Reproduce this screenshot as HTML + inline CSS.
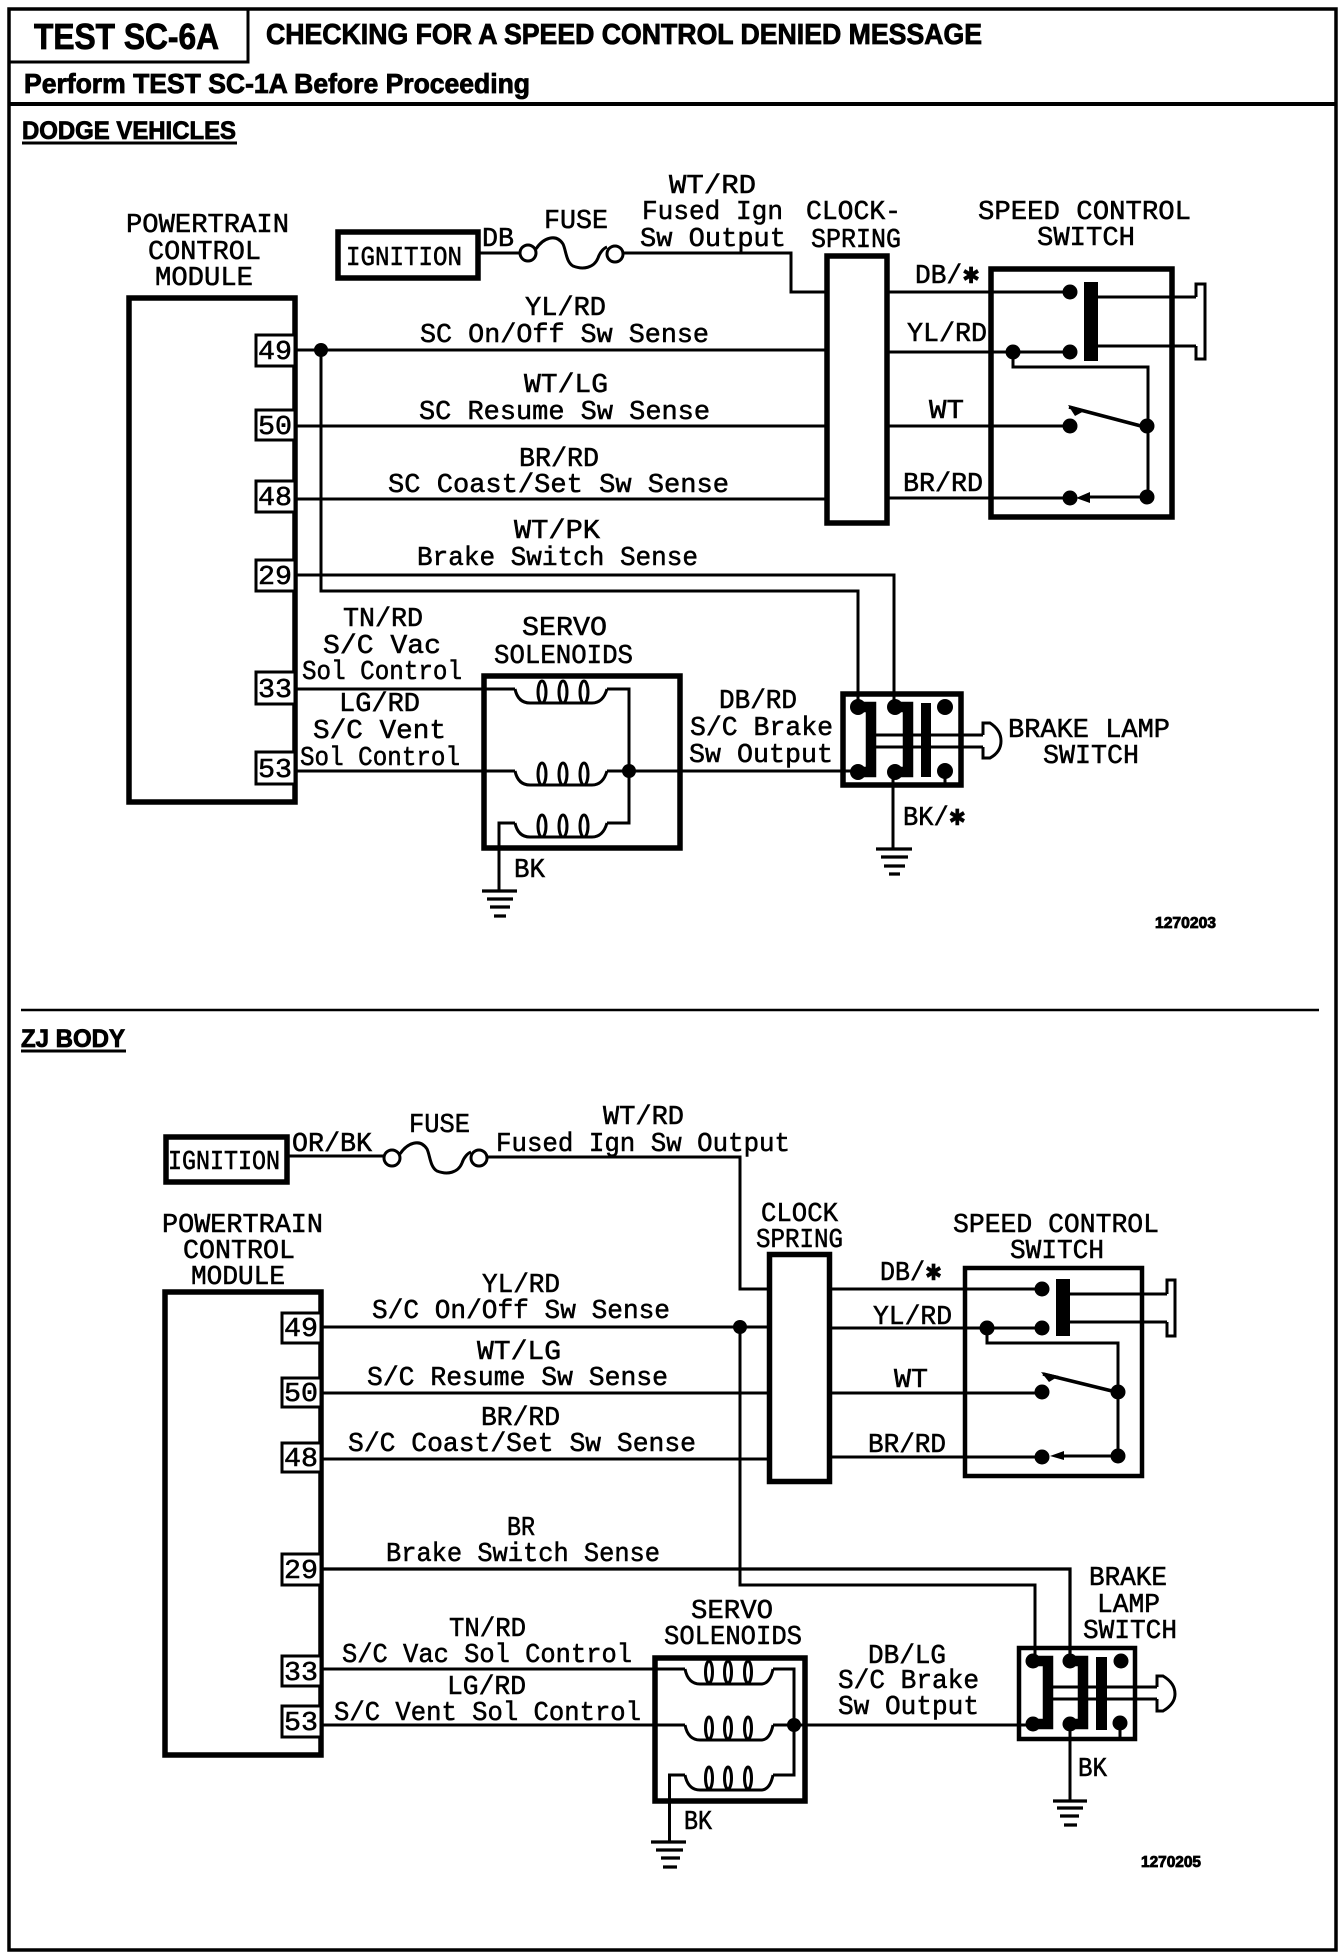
<!DOCTYPE html>
<html lang="en"><head><meta charset="utf-8"><title>TEST SC-6A</title>
<style>
html,body{margin:0;padding:0;background:#fff}
svg{display:block}
.m{font-family:"Liberation Mono","DejaVu Sans Mono",monospace;font-size:27px;fill:#000;stroke:#000;stroke-width:.55}
.b{font-family:"Liberation Sans",sans-serif;font-weight:700;fill:#000;stroke:#000;stroke-width:.85}
.s{font-family:"DejaVu Sans",sans-serif;font-size:22px}
.w{fill:none;stroke:#000;stroke-width:3}
.k{fill:none;stroke:#000;stroke-width:5.5}
.p{fill:#fff;stroke:#000;stroke-width:3}
</style></head><body>
<svg xmlns="http://www.w3.org/2000/svg" width="1344" height="1958" viewBox="0 0 1344 1958">
<defs>
<g id="coil"><path class="w" d="M0,0 Q3,14 15,14 H77 Q88,14 92,0"/><ellipse class="w" cx="27" cy="3" rx="4" ry="11"/><ellipse class="w" cx="48" cy="3" rx="4" ry="11"/><ellipse class="w" cx="69" cy="3" rx="4" ry="11"/></g>
<g id="coil2"><path class="w" d="M0,0 Q3,15 15,15 H76 Q85,15 88,0"/><ellipse class="w" cx="24" cy="3" rx="3.5" ry="11"/><ellipse class="w" cx="43" cy="3" rx="3.5" ry="11"/><ellipse class="w" cx="63" cy="3" rx="3.5" ry="11"/></g>
</defs>
<rect width="1344" height="1958" fill="#fff"/>

<!-- frame -->
<rect x="9" y="9" width="1327" height="1941" fill="none" stroke="#000" stroke-width="3.5"/>
<path class="w" d="M8,62 H248 V9"/>
<path d="M8,104 H1336" stroke="#000" stroke-width="4" fill="none"/>
<path d="M21,1010 H1319" stroke="#000" stroke-width="2.5" fill="none"/>
<path d="M22,143 H237 M21,1051 H126" stroke="#000" stroke-width="3" fill="none"/>

<!-- headings -->
<text class="b" x="34" y="49" font-size="36" textLength="185" lengthAdjust="spacingAndGlyphs">TEST SC-6A</text>
<text class="b" x="266" y="44" font-size="29" textLength="716" lengthAdjust="spacingAndGlyphs">CHECKING FOR A SPEED CONTROL DENIED MESSAGE</text>
<text class="b" x="24" y="93" font-size="28" textLength="506" lengthAdjust="spacingAndGlyphs">Perform TEST SC-1A Before Proceeding</text>
<text class="b" x="22" y="139" font-size="25" textLength="214" lengthAdjust="spacingAndGlyphs">DODGE VEHICLES</text>
<text class="b" x="21" y="1047" font-size="25" textLength="104" lengthAdjust="spacingAndGlyphs">ZJ BODY</text>
<text class="b" x="1155" y="928" font-size="15.5" textLength="61" lengthAdjust="spacingAndGlyphs">1270203</text>
<text class="b" x="1141" y="1867" font-size="15.5" textLength="60" lengthAdjust="spacingAndGlyphs">1270205</text>

<!-- ========== TOP DIAGRAM ========== -->
<rect class="k" x="129" y="298" width="166" height="504"/>
<rect class="p" x="256" y="335" width="39" height="31"/>
<rect class="p" x="256" y="410" width="39" height="30"/>
<rect class="p" x="256" y="481" width="39" height="31"/>
<rect class="p" x="256" y="560" width="39" height="31"/>
<rect class="p" x="256" y="672" width="39" height="32"/>
<rect class="p" x="256" y="752" width="39" height="32"/>

<!-- wires -->
<path class="w" d="M295,350 H827 M295,426 H827 M295,499 H827"/>
<path class="w" d="M321,350 V591 H858 V700"/>
<path class="w" d="M295,575 H894 V700"/>
<path class="w" d="M479,253 H520 M624,253 H791 V292 H827"/>
<circle cx="528" cy="253" r="8" fill="#fff" stroke="#000" stroke-width="3"/>
<circle cx="615" cy="254" r="8" fill="#fff" stroke="#000" stroke-width="3"/>
<path class="w" d="M536,249 C543,238 556,233 563,244 C566,250 566,262 573,266 C583,270 594,268 598,258 C600,252 604,248 607,247"/>
<circle cx="321" cy="350" r="7"/>
<rect class="k" x="338" y="232" width="140" height="46"/>

<!-- clockspring -->
<rect class="k" x="827" y="256" width="60" height="267" fill="#fff"/>

<!-- speed control switch -->
<rect class="k" x="991" y="269" width="181" height="248"/>
<path class="w" d="M887,292 H1070 M887,352 H1070 M887,426 H1070 M887,498 H1070"/>
<rect x="1084" y="282" width="14" height="79"/>
<path class="w" d="M1098,297 H1196 M1098,346 H1196"/>
<path class="w" d="M1196,297 V284 H1205 V359 H1196 V346"/>
<path class="w" d="M1013,352 V367 H1148 V497 M1147,497 H1088"/>
<path d="M1141,426 L1069,407" stroke="#000" stroke-width="3.5" fill="none"/>
<path d="M1068,405 L1086,410 L1075,416 Z"/>
<path d="M1076,498 L1090,492 V503 Z"/>
<circle cx="1070" cy="292" r="7.5"/><circle cx="1070" cy="352" r="7.5"/><circle cx="1070" cy="426" r="7.5"/><circle cx="1070" cy="498" r="7.5"/>
<circle cx="1013" cy="352" r="7.5"/><circle cx="1147" cy="426" r="7.5"/><circle cx="1147" cy="497" r="7.5"/>

<!-- servo solenoids -->
<rect class="k" x="484" y="676" width="196" height="172"/>
<path class="w" d="M295,689 H515 M607,689 H629 V823 H607 M295,771 H515 M607,771 H858"/>
<use href="#coil" x="515" y="689"/><use href="#coil" x="515" y="771"/><use href="#coil" x="515" y="823"/>
<path class="w" d="M515,823 H499 V891"/>
<circle cx="629" cy="771" r="7"/>
<path d="M482,891 H517 M487,899 H513 M490,907 H510 M494,916 H506" stroke="#000" stroke-width="3.2" fill="none"/>

<!-- brake lamp switch -->
<rect class="k" x="843" y="694" width="118" height="91"/>
<path d="M858,707 H871 V772 H858 M895,707 H908 V772 H895" fill="none" stroke="#000" stroke-width="10.5"/>
<rect x="921" y="703" width="10" height="74"/>
<circle cx="858" cy="707" r="8"/><circle cx="895" cy="707" r="8"/><circle cx="945" cy="707" r="8"/>
<circle cx="858" cy="772" r="8"/><circle cx="895" cy="772" r="8"/><circle cx="945" cy="771" r="8"/>
<path class="w" d="M945,771 V785 M876,735 H983 M876,747 H983 M893,772 V849"/>
<path class="w" d="M983,735 V723 H990 Q1001,730 1001,741 Q1001,752 990,758 H983 V747"/>
<path d="M876,849 H912 M881,857 H908 M884,866 H905 M889,874 H900" stroke="#000" stroke-width="3.2" fill="none"/>

<!-- ========== BOTTOM DIAGRAM ========== -->
<rect class="k" x="165" y="1292" width="156" height="463"/>
<rect class="p" x="282" y="1313" width="39" height="30"/>
<rect class="p" x="282" y="1378" width="39" height="29"/>
<rect class="p" x="282" y="1443" width="39" height="29"/>
<rect class="p" x="282" y="1554" width="39" height="31"/>
<rect class="p" x="282" y="1656" width="39" height="30"/>
<rect class="p" x="282" y="1706" width="39" height="31"/>

<rect class="k" x="166" y="1137" width="121" height="45"/>
<path class="w" d="M289,1156 H385 M487,1157 H740 V1289 H769"/>
<circle cx="392" cy="1158" r="8" fill="#fff" stroke="#000" stroke-width="3"/>
<circle cx="479" cy="1158" r="8" fill="#fff" stroke="#000" stroke-width="3"/>
<path class="w" d="M400,1154 C407,1143 420,1138 427,1149 C430,1155 430,1167 437,1171 C447,1175 458,1173 462,1163 C464,1157 468,1153 471,1152"/>

<path class="w" d="M321,1327 H769 M321,1393 H769 M321,1459 H769"/>
<path class="w" d="M740,1327 V1585 H1035 V1655"/>
<path d="M321,1569 H1070 V1655" fill="none" stroke="#000" stroke-width="3.2"/>
<circle cx="740" cy="1327" r="7"/>

<rect class="k" x="769.5" y="1254.5" width="60" height="227" fill="#fff"/>

<rect x="965" y="1268" width="177" height="208" fill="none" stroke="#000" stroke-width="4.5"/>
<path class="w" d="M832,1289 H1042 M832,1328 H1042 M832,1393 H1042 M832,1457 H1042"/>
<rect x="1056" y="1279" width="14" height="57"/>
<path class="w" d="M1070,1294 H1167 M1070,1322 H1167"/>
<path class="w" d="M1167,1294 V1280 H1175 V1336 H1167 V1322"/>
<path class="w" d="M987,1328 V1343 H1118 V1456 H1060"/>
<path d="M1112,1391 L1043,1374" stroke="#000" stroke-width="3.5" fill="none"/>
<path d="M1041,1372 L1059,1376 L1049,1382 Z"/>
<path d="M1050,1456 L1064,1451 V1460 Z"/>
<circle cx="1042" cy="1289" r="7.5"/><circle cx="1042" cy="1328" r="7.5"/><circle cx="1042" cy="1392" r="7.5"/><circle cx="1042" cy="1457" r="7.5"/>
<circle cx="987" cy="1328" r="7.5"/><circle cx="1118" cy="1392" r="7.5"/><circle cx="1118" cy="1456" r="7.5"/>

<rect class="k" x="655" y="1658" width="150" height="143"/>
<path class="w" d="M321,1669 H685 M773,1669 H794 V1775 H773 M321,1725 H685 M773,1725 H1027"/>
<use href="#coil2" x="685" y="1669"/><use href="#coil2" x="685" y="1725"/><use href="#coil2" x="685" y="1775"/>
<path class="w" d="M685,1775 H669.5 V1842"/>
<circle cx="794" cy="1725" r="7"/>
<path d="M651,1842 H686 M656,1850 H683 M661,1858 H680 M663,1867 H677" stroke="#000" stroke-width="3.2" fill="none"/>

<rect x="1019" y="1648" width="116" height="91" fill="none" stroke="#000" stroke-width="4.5"/>
<path d="M1033,1661 H1048 V1724 H1033 M1070,1661 H1083 V1724 H1070" fill="none" stroke="#000" stroke-width="10.5"/>
<rect x="1096" y="1657" width="11" height="73"/>
<circle cx="1033" cy="1661" r="7.5"/><circle cx="1070" cy="1661" r="7.5"/><circle cx="1121" cy="1661" r="7.5"/>
<circle cx="1033" cy="1724" r="7.5"/><circle cx="1070" cy="1724" r="7.5"/><circle cx="1120" cy="1723" r="7.5"/>
<path class="w" d="M1120,1723 V1739 M1053,1687 H1157 M1053,1699 H1157 M1070,1724 V1801"/>
<path class="w" d="M1157,1687 V1676 H1163 Q1175,1683 1175,1694 Q1175,1704 1163,1711 H1157 V1699"/>
<path d="M1053,1801 H1087 M1057,1808 H1083 M1060,1816 H1079 M1064,1825 H1077" stroke="#000" stroke-width="3.2" fill="none"/>

<!-- ========== LABELS TOP ========== -->
<g class="m">
<text x="126" y="232" textLength="163" lengthAdjust="spacingAndGlyphs">POWERTRAIN</text>
<text x="148" y="259" textLength="113" lengthAdjust="spacingAndGlyphs">CONTROL</text>
<text x="155" y="285" textLength="98" lengthAdjust="spacingAndGlyphs">MODULE</text>
<text x="346" y="265" textLength="116" lengthAdjust="spacingAndGlyphs">IGNITION</text>
<text x="482" y="246" textLength="32" lengthAdjust="spacingAndGlyphs">DB</text>
<text x="544" y="228" textLength="64" lengthAdjust="spacingAndGlyphs">FUSE</text>
<text x="669" y="193" textLength="87" lengthAdjust="spacingAndGlyphs">WT/RD</text>
<text x="642" y="219" textLength="141" lengthAdjust="spacingAndGlyphs">Fused Ign</text>
<text x="640" y="246" textLength="146" lengthAdjust="spacingAndGlyphs">Sw Output</text>
<text x="806" y="219" textLength="95" lengthAdjust="spacingAndGlyphs">CLOCK-</text>
<text x="811" y="247" textLength="90" lengthAdjust="spacingAndGlyphs">SPRING</text>
<text x="978" y="219" textLength="213" lengthAdjust="spacingAndGlyphs">SPEED CONTROL</text>
<text x="1037" y="245" textLength="98" lengthAdjust="spacingAndGlyphs">SWITCH</text>
<text x="915" y="283" textLength="65" lengthAdjust="spacingAndGlyphs">DB/<tspan class="s">✱</tspan></text>
<text x="907" y="341" textLength="80" lengthAdjust="spacingAndGlyphs">YL/RD</text>
<text x="929" y="418" textLength="35" lengthAdjust="spacingAndGlyphs">WT</text>
<text x="903" y="491" textLength="80" lengthAdjust="spacingAndGlyphs">BR/RD</text>
<text x="525" y="315" textLength="81" lengthAdjust="spacingAndGlyphs">YL/RD</text>
<text x="420" y="342" textLength="289" lengthAdjust="spacingAndGlyphs">SC On/Off Sw Sense</text>
<text x="524" y="392" textLength="84" lengthAdjust="spacingAndGlyphs">WT/LG</text>
<text x="419" y="419" textLength="291" lengthAdjust="spacingAndGlyphs">SC Resume Sw Sense</text>
<text x="519" y="466" textLength="80" lengthAdjust="spacingAndGlyphs">BR/RD</text>
<text x="388" y="492" textLength="341" lengthAdjust="spacingAndGlyphs">SC Coast/Set Sw Sense</text>
<text x="514" y="538" textLength="86" lengthAdjust="spacingAndGlyphs">WT/PK</text>
<text x="417" y="565" textLength="281" lengthAdjust="spacingAndGlyphs">Brake Switch Sense</text>
<text x="343" y="626" textLength="80" lengthAdjust="spacingAndGlyphs">TN/RD</text>
<text x="323" y="653" textLength="118" lengthAdjust="spacingAndGlyphs">S/C Vac</text>
<text x="302" y="679" textLength="160" lengthAdjust="spacingAndGlyphs">Sol Control</text>
<text x="339" y="711" textLength="81" lengthAdjust="spacingAndGlyphs">LG/RD</text>
<text x="313" y="738" textLength="133" lengthAdjust="spacingAndGlyphs">S/C Vent</text>
<text x="300" y="765" textLength="160" lengthAdjust="spacingAndGlyphs">Sol Control</text>
<text x="522" y="635" textLength="85" lengthAdjust="spacingAndGlyphs">SERVO</text>
<text x="494" y="663" textLength="139" lengthAdjust="spacingAndGlyphs">SOLENOIDS</text>
<text x="514" y="877" textLength="31" lengthAdjust="spacingAndGlyphs">BK</text>
<text x="719" y="708" textLength="78" lengthAdjust="spacingAndGlyphs">DB/RD</text>
<text x="690" y="735" textLength="143" lengthAdjust="spacingAndGlyphs">S/C Brake</text>
<text x="689" y="762" textLength="144" lengthAdjust="spacingAndGlyphs">Sw Output</text>
<text x="1008" y="737" textLength="162" lengthAdjust="spacingAndGlyphs">BRAKE LAMP</text>
<text x="1043" y="763" textLength="96" lengthAdjust="spacingAndGlyphs">SWITCH</text>
<text x="903" y="825" textLength="63" lengthAdjust="spacingAndGlyphs">BK/<tspan class="s">✱</tspan></text>
<text x="258" y="359" textLength="34" lengthAdjust="spacingAndGlyphs">49</text>
<text x="258" y="434" textLength="34" lengthAdjust="spacingAndGlyphs">50</text>
<text x="258" y="505" textLength="34" lengthAdjust="spacingAndGlyphs">48</text>
<text x="258" y="584" textLength="34" lengthAdjust="spacingAndGlyphs">29</text>
<text x="258" y="697" textLength="34" lengthAdjust="spacingAndGlyphs">33</text>
<text x="258" y="777" textLength="34" lengthAdjust="spacingAndGlyphs">53</text>

<!-- labels bottom -->
<text x="168" y="1169" textLength="112" lengthAdjust="spacingAndGlyphs">IGNITION</text>
<text x="292" y="1151" textLength="80" lengthAdjust="spacingAndGlyphs">OR/BK</text>
<text x="409" y="1132" textLength="61" lengthAdjust="spacingAndGlyphs">FUSE</text>
<text x="603" y="1124" textLength="81" lengthAdjust="spacingAndGlyphs">WT/RD</text>
<text x="496" y="1151" textLength="294" lengthAdjust="spacingAndGlyphs">Fused Ign Sw Output</text>
<text x="162" y="1232" textLength="161" lengthAdjust="spacingAndGlyphs">POWERTRAIN</text>
<text x="183" y="1258" textLength="112" lengthAdjust="spacingAndGlyphs">CONTROL</text>
<text x="191" y="1284" textLength="94" lengthAdjust="spacingAndGlyphs">MODULE</text>
<text x="761" y="1221" textLength="77" lengthAdjust="spacingAndGlyphs">CLOCK</text>
<text x="756" y="1247" textLength="87" lengthAdjust="spacingAndGlyphs">SPRING</text>
<text x="953" y="1232" textLength="206" lengthAdjust="spacingAndGlyphs">SPEED CONTROL</text>
<text x="1010" y="1258" textLength="94" lengthAdjust="spacingAndGlyphs">SWITCH</text>
<text x="880" y="1280" textLength="62" lengthAdjust="spacingAndGlyphs">DB/<tspan class="s">✱</tspan></text>
<text x="873" y="1324" textLength="79" lengthAdjust="spacingAndGlyphs">YL/RD</text>
<text x="894" y="1387" textLength="34" lengthAdjust="spacingAndGlyphs">WT</text>
<text x="868" y="1452" textLength="78" lengthAdjust="spacingAndGlyphs">BR/RD</text>
<text x="482" y="1292" textLength="78" lengthAdjust="spacingAndGlyphs">YL/RD</text>
<text x="372" y="1318" textLength="298" lengthAdjust="spacingAndGlyphs">S/C On/Off Sw Sense</text>
<text x="477" y="1359" textLength="84" lengthAdjust="spacingAndGlyphs">WT/LG</text>
<text x="367" y="1385" textLength="301" lengthAdjust="spacingAndGlyphs">S/C Resume Sw Sense</text>
<text x="481" y="1425" textLength="79" lengthAdjust="spacingAndGlyphs">BR/RD</text>
<text x="348" y="1451" textLength="348" lengthAdjust="spacingAndGlyphs">S/C Coast/Set Sw Sense</text>
<text x="507" y="1535" textLength="28" lengthAdjust="spacingAndGlyphs">BR</text>
<text x="386" y="1561" textLength="274" lengthAdjust="spacingAndGlyphs">Brake Switch Sense</text>
<text x="449" y="1636" textLength="77" lengthAdjust="spacingAndGlyphs">TN/RD</text>
<text x="342" y="1662" textLength="290" lengthAdjust="spacingAndGlyphs">S/C Vac Sol Control</text>
<text x="447" y="1694" textLength="79" lengthAdjust="spacingAndGlyphs">LG/RD</text>
<text x="334" y="1720" textLength="307" lengthAdjust="spacingAndGlyphs">S/C Vent Sol Control</text>
<text x="691" y="1618" textLength="82" lengthAdjust="spacingAndGlyphs">SERVO</text>
<text x="664" y="1644" textLength="138" lengthAdjust="spacingAndGlyphs">SOLENOIDS</text>
<text x="684" y="1829" textLength="28" lengthAdjust="spacingAndGlyphs">BK</text>
<text x="868" y="1663" textLength="78" lengthAdjust="spacingAndGlyphs">DB/LG</text>
<text x="838" y="1688" textLength="141" lengthAdjust="spacingAndGlyphs">S/C Brake</text>
<text x="838" y="1714" textLength="141" lengthAdjust="spacingAndGlyphs">Sw Output</text>
<text x="1089" y="1585" textLength="78" lengthAdjust="spacingAndGlyphs">BRAKE</text>
<text x="1097" y="1612" textLength="63" lengthAdjust="spacingAndGlyphs">LAMP</text>
<text x="1083" y="1638" textLength="94" lengthAdjust="spacingAndGlyphs">SWITCH</text>
<text x="1078" y="1776" textLength="29" lengthAdjust="spacingAndGlyphs">BK</text>
<text x="284" y="1336" textLength="34" lengthAdjust="spacingAndGlyphs">49</text>
<text x="284" y="1401" textLength="34" lengthAdjust="spacingAndGlyphs">50</text>
<text x="284" y="1466" textLength="34" lengthAdjust="spacingAndGlyphs">48</text>
<text x="284" y="1578" textLength="34" lengthAdjust="spacingAndGlyphs">29</text>
<text x="284" y="1680" textLength="34" lengthAdjust="spacingAndGlyphs">33</text>
<text x="284" y="1730" textLength="34" lengthAdjust="spacingAndGlyphs">53</text>
</g>
</svg>
</body></html>
